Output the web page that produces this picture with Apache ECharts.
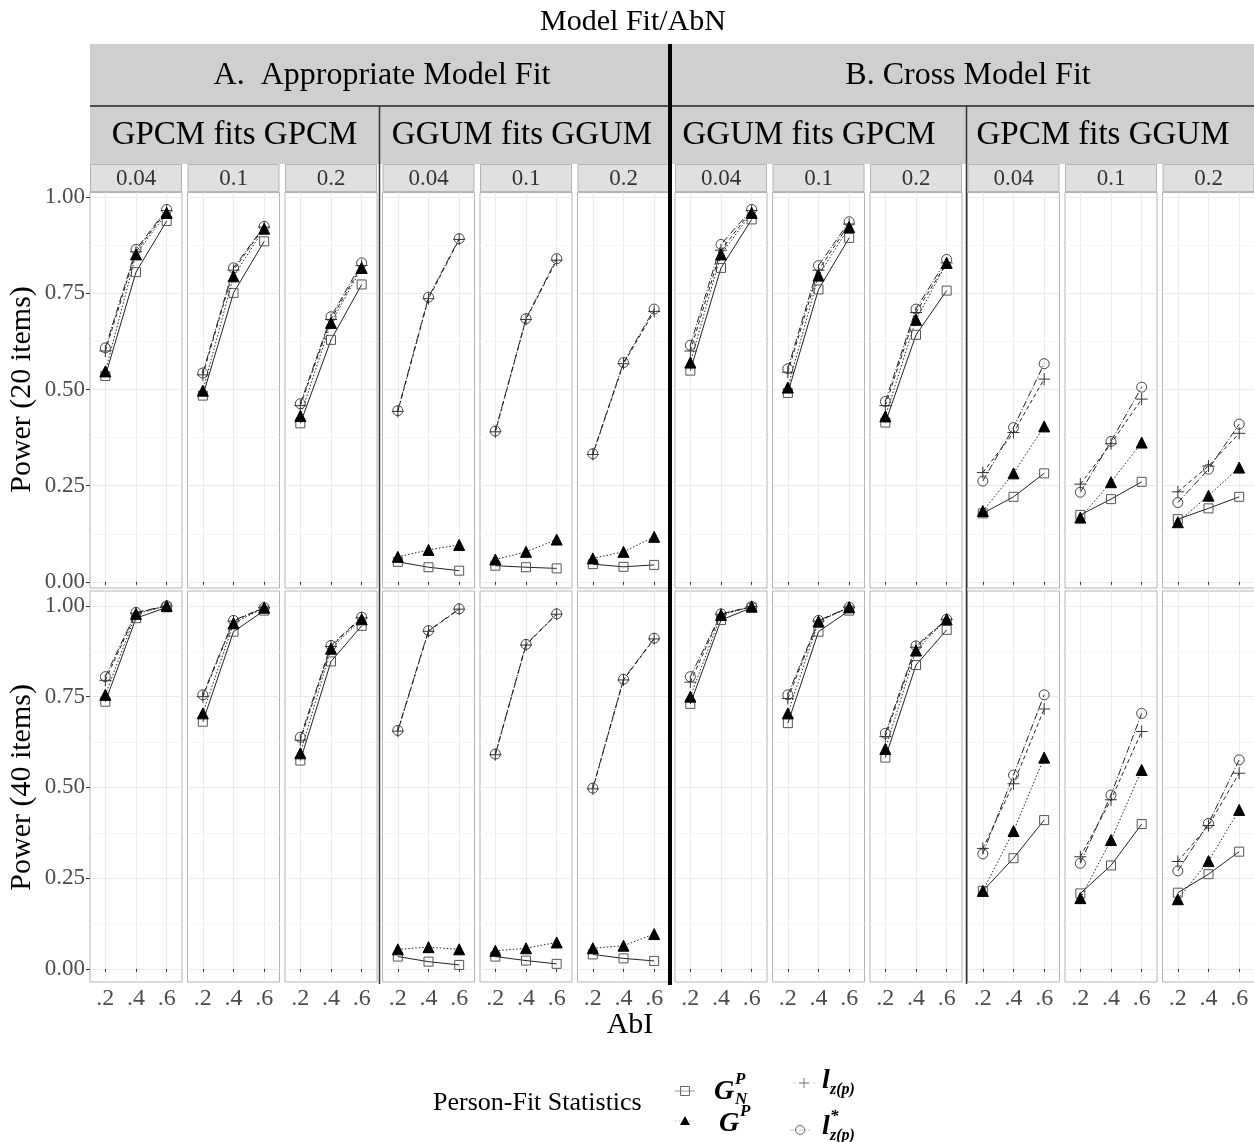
<!DOCTYPE html>
<html>
<head>
<meta charset="utf-8">
<script src="https://cdn.jsdelivr.net/npm/echarts@6/dist/echarts.min.js"></script>
<style>
  html, body { margin: 0; padding: 0; background: #fff; }
  #chart { width: 1254px; height: 1142px; }
</style>
</head>
<body>
<div id="chart"></div>
<script>
// ---- data ----
var abi = ['.2', '.4', '.6'];
var abnLevels = ['0.04', '0.1', '0.2'];
var conditions = ['GPCM fits GPCM', 'GGUM fits GGUM', 'GGUM fits GPCM', 'GPCM fits GGUM'];
var fitGroups = ['A.  Appropriate Model Fit', 'B. Cross Model Fit'];
var rowNames = ['Power (20 items)', 'Power (40 items)'];

// one entry per panel (left to right), values at AbI .2 / .4 / .6
var gnp20 = [
  [0.535, 0.805, 0.938], [0.484, 0.751, 0.885], [0.412, 0.629, 0.773],
  [0.052, 0.038, 0.029], [0.042, 0.038, 0.035], [0.046, 0.039, 0.044],
  [0.549, 0.816, 0.942], [0.491, 0.760, 0.894], [0.414, 0.642, 0.757],
  [0.178, 0.221, 0.282], [0.174, 0.215, 0.260], [0.163, 0.191, 0.221]
];
var gp20 = [
  [0.547, 0.851, 0.959], [0.497, 0.794, 0.918], [0.431, 0.673, 0.816],
  [0.065, 0.083, 0.096], [0.058, 0.078, 0.110], [0.061, 0.078, 0.117],
  [0.570, 0.851, 0.959], [0.505, 0.796, 0.922], [0.430, 0.681, 0.829],
  [0.184, 0.282, 0.404], [0.167, 0.259, 0.362], [0.155, 0.224, 0.297]
];
var lzp20 = [
  [0.600, 0.858, 0.965], [0.538, 0.810, 0.922], [0.458, 0.682, 0.822],
  [0.443, 0.736, 0.890], [0.390, 0.682, 0.836], [0.331, 0.567, 0.703],
  [0.600, 0.862, 0.965], [0.545, 0.810, 0.930], [0.458, 0.700, 0.829],
  [0.284, 0.388, 0.527], [0.254, 0.359, 0.475], [0.234, 0.301, 0.386]
];
var lzs20 = [
  [0.608, 0.864, 0.968], [0.543, 0.816, 0.924], [0.463, 0.689, 0.829],
  [0.445, 0.740, 0.892], [0.392, 0.684, 0.840], [0.333, 0.570, 0.709],
  [0.615, 0.877, 0.968], [0.554, 0.822, 0.936], [0.469, 0.709, 0.838],
  [0.262, 0.401, 0.567], [0.233, 0.365, 0.506], [0.206, 0.293, 0.410]
];
var gnp40 = [
  [0.736, 0.966, 0.996], [0.681, 0.929, 0.987], [0.574, 0.847, 0.945],
  [0.034, 0.020, 0.011], [0.034, 0.023, 0.014], [0.040, 0.029, 0.022],
  [0.730, 0.961, 0.995], [0.677, 0.929, 0.987], [0.582, 0.837, 0.934],
  [0.215, 0.305, 0.410], [0.208, 0.285, 0.399], [0.210, 0.261, 0.323]
];
var gp40 = [
  [0.755, 0.978, 1.000], [0.704, 0.952, 0.995], [0.594, 0.882, 0.963],
  [0.054, 0.060, 0.054], [0.050, 0.057, 0.073], [0.057, 0.064, 0.096],
  [0.750, 0.975, 0.998], [0.704, 0.957, 0.996], [0.606, 0.877, 0.963],
  [0.215, 0.380, 0.582], [0.195, 0.355, 0.548], [0.192, 0.297, 0.438]
];
var lzp40 = [
  [0.795, 0.980, 1.000], [0.750, 0.958, 0.995], [0.630, 0.888, 0.967],
  [0.655, 0.930, 0.991], [0.590, 0.892, 0.977], [0.496, 0.796, 0.909],
  [0.790, 0.977, 0.998], [0.745, 0.958, 0.996], [0.640, 0.886, 0.963],
  [0.332, 0.510, 0.716], [0.309, 0.466, 0.654], [0.296, 0.395, 0.539]
];
var lzs40 = [
  [0.805, 0.982, 1.000], [0.755, 0.960, 0.995], [0.638, 0.891, 0.969],
  [0.657, 0.932, 0.992], [0.592, 0.894, 0.978], [0.498, 0.798, 0.911],
  [0.805, 0.978, 0.998], [0.755, 0.960, 0.996], [0.649, 0.890, 0.963],
  [0.317, 0.534, 0.755], [0.291, 0.479, 0.704], [0.270, 0.401, 0.576]
];

// ---- layout ----
var FONT = 'Liberation Serif';
var panelLeft = 90, panelStep = 97.5, panelW = 92;
var rows = [
  { top: 192.5, height: 395.5, ymin: -0.016, ymax: 1.012, stats: [lzs20, lzp20, gnp20, gp20] },
  { top: 591, height: 391, ymin: -0.036, ymax: 1.041, stats: [lzs40, lzp40, gnp40, gp40] }
];

// circle / plus / square / triangle, same order as rows[].stats
var statStyles = [
  { symbol: 'circle', size: 10, fill: 'rgba(0,0,0,0)', stroke: '#444', dash: [7, 2, 1, 2] },
  { symbol: 'path://M5,0L5,10M0,5L10,5', size: 12, fill: 'rgba(0,0,0,0)', stroke: '#333', dash: [4, 3] },
  { symbol: 'rect', size: 9, fill: 'rgba(0,0,0,0)', stroke: '#555', dash: 'solid' },
  { symbol: 'triangle', size: 11, fill: '#000', stroke: '#000', dash: [1.5, 2] }
];

var grids = [], xAxes = [], yAxes = [], series = [];

rows.forEach(function (row, r) {
  var pxPerUnit = row.height / (row.ymax - row.ymin);
  for (var p = 0; p < 12; p++) {
    var left = panelLeft + panelStep * p;

    // frame: border, vertical grid lines, x ticks
    var fi = grids.length;
    grids.push({
      left: left, top: row.top, width: panelW, height: row.height,
      show: true, borderColor: '#b3b3b3', borderWidth: 1,
      backgroundColor: 'transparent', outerBoundsMode: 'none'
    });
    xAxes.push({
      gridIndex: fi, type: 'category', data: abi, boundaryGap: true,
      axisLine: { show: false },
      axisTick: { show: true, alignWithLabel: true, length: 3, lineStyle: { color: '#333' } },
      axisLabel: { show: r === 1, fontFamily: FONT, fontSize: 24, color: '#4d4d4d', margin: 5 },
      splitLine: { show: true, alignWithLabel: true, lineStyle: { color: '#ebebeb', width: 1 } }
    });
    yAxes.push({ gridIndex: fi, type: 'value', min: row.ymin, max: row.ymax, show: false });

    // data area: 0..1 span of the panel
    var di = grids.length;
    grids.push({
      left: left, top: row.top + (row.ymax - 1) * pxPerUnit, width: panelW, height: pxPerUnit,
      show: false, outerBoundsMode: 'none'
    });
    xAxes.push({ gridIndex: di, type: 'category', data: abi, boundaryGap: true, show: false });
    yAxes.push({
      gridIndex: di, type: 'value', min: 0, max: 1, interval: 0.25,
      name: p === 0 ? rowNames[r] : '',
      nameLocation: 'middle', nameGap: 53, nameRotate: 90,
      nameTextStyle: { fontFamily: FONT, fontSize: 30, color: '#000' },
      axisLine: { show: false },
      axisTick: { show: p === 0, length: 4, lineStyle: { color: '#333' } },
      axisLabel: {
        show: p === 0, fontFamily: FONT, fontSize: 23, color: '#4d4d4d', margin: 5,
        formatter: function (v) { return v.toFixed(2); }
      },
      splitLine: { show: true, lineStyle: { color: '#ebebeb', width: 1 } },
      minorTick: { show: false, splitNumber: 2 },
      minorSplitLine: { show: true, lineStyle: { color: '#f5f5f5', width: 1 } }
    });

    row.stats.forEach(function (stat, s) {
      var st = statStyles[s];
      series.push({
        type: 'line', xAxisIndex: di, yAxisIndex: di,
        data: stat[p],
        symbol: st.symbol, symbolSize: st.size, showSymbol: true,
        itemStyle: { color: st.fill, borderColor: st.stroke, borderWidth: 1 },
        lineStyle: { color: '#222', width: 1, type: st.dash },
        silent: true, animation: false, z: 3 + s
      });
    });
  }
});

// ---- strips, separators, titles, legend ----
var g = [];
function text(x, y, s, size, extra) {
  var style = { text: s, x: x, y: y, fontFamily: FONT, fontSize: size, fill: '#000',
    textAlign: 'center', textVerticalAlign: 'middle' };
  for (var k in (extra || {})) style[k] = extra[k];
  g.push({ type: 'text', z: 20, style: style });
}
function line(x1, y1, x2, y2, w, c, dash) {
  g.push({ type: 'line', z: 19, shape: { x1: x1, y1: y1, x2: x2, y2: y2 },
    style: { stroke: c, lineWidth: w, lineDash: dash || null } });
}

text(633, 22, 'Model Fit/AbN', 30);
g.push({ type: 'rect', z: 10, shape: { x: 90, y: 44, width: 1164, height: 120 }, style: { fill: '#cfcfcf' } });
line(90, 106, 1254, 106, 1.5, '#222');
text(382, 76, fitGroups[0], 32);
text(968, 76, fitGroups[1], 32);
var condCenters = [234.5, 522, 809, 1103];
conditions.forEach(function (c, i) { text(condCenters[i], 135, c, 33); });

for (var p = 0; p < 12; p++) {
  var lx = panelLeft + panelStep * p;
  g.push({ type: 'rect', z: 10, shape: { x: lx + 0.5, y: 164.5, width: panelW - 1, height: 27 },
    style: { fill: '#e0e0e0', stroke: '#b3b3b3', lineWidth: 1 } });
  text(lx + panelW / 2, 178.5, abnLevels[p % 3], 23, { fill: '#333' });
}

line(379.5, 106, 379.5, 984, 1.5, '#333');
line(966.5, 106, 966.5, 984, 1.5, '#333');
line(670, 44, 670, 985, 4, '#000');

text(630, 1025, 'AbI', 30);

// legend
text(433, 1103, 'Person-Fit Statistics', 26, { textAlign: 'left' });
var keyX = [685, 685, 804, 800];
var keyY = [1091, 1121, 1083, 1130];
line(675, keyY[0], 695, keyY[0], 1, '#999');
line(675, keyY[1], 695, keyY[1], 1, '#bbb', [1.5, 2]);
line(792, keyY[2], 816, keyY[2], 1, '#ddd', [4, 3]);
line(790, keyY[3], 810, keyY[3], 1, '#bbb', [4, 2, 1, 2]);
g.push({ type: 'rect', z: 21, shape: { x: keyX[0] - 4.5, y: keyY[0] - 4.5, width: 9, height: 9 },
  style: { fill: 'none', stroke: '#666', lineWidth: 1 } });
g.push({ type: 'polygon', z: 21, shape: { points: [[keyX[1], keyY[1] - 5], [keyX[1] + 5, keyY[1] + 4], [keyX[1] - 5, keyY[1] + 4]] },
  style: { fill: '#000' } });
line(keyX[2] - 5, keyY[2], keyX[2] + 5, keyY[2], 1, '#777');
line(keyX[2], keyY[2] - 5, keyX[2], keyY[2] + 5, 1, '#777');
g.push({ type: 'circle', z: 21, shape: { cx: keyX[3], cy: keyY[3], r: 4.5 },
  style: { fill: 'none', stroke: '#666', lineWidth: 1 } });

var mathBig = { textAlign: 'left', fontStyle: 'italic', fontWeight: 'bold' };
var mathSmall = { textAlign: 'left', fontStyle: 'italic', fontWeight: 'bold' };
text(714, 1092, 'G', 28, mathBig);
text(735, 1080, 'P', 17, mathSmall);
text(735, 1100, 'N', 17, mathSmall);
text(719, 1124, 'G', 28, mathBig);
text(740, 1112, 'P', 17, mathSmall);
text(822, 1081, 'l', 28, mathBig);
text(830, 1090, 'z(p)', 16, mathSmall);
text(822, 1127, 'l', 28, mathBig);
text(830, 1117, '*', 17, mathSmall);
text(830, 1136, 'z(p)', 16, mathSmall);

var chart = echarts.init(document.getElementById('chart'));
chart.setOption({
  backgroundColor: '#fff',
  animation: false,
  grid: grids,
  xAxis: xAxes,
  yAxis: yAxes,
  series: series,
  graphic: { elements: g }
});
</script>
</body>
</html>
